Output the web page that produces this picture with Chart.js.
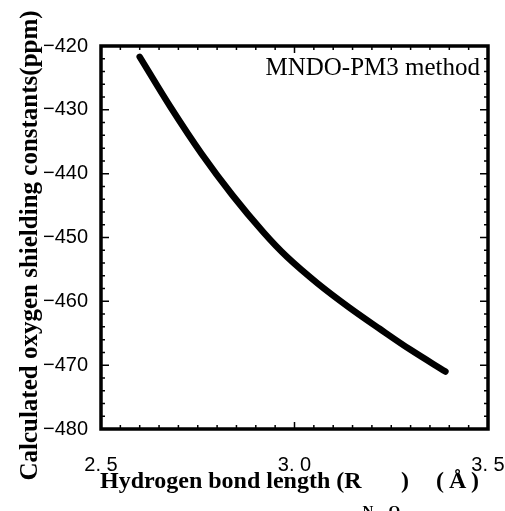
<!DOCTYPE html>
<html>
<head>
<meta charset="utf-8">
<script src="https://cdn.jsdelivr.net/npm/chart.js@4"></script>
<style>
  body { margin: 0; background: #fff; }
  #wrap { width: 505px; height: 511px; }
</style>
</head>
<body>
<div id="wrap"><canvas id="myChart" width="505" height="511"></canvas></div>
<script>
'use strict';

// values
let bondLength = [2.60, 2.68, 2.76, 2.84, 2.92, 2.98, 3.06, 3.14, 3.22, 3.30, 3.39];
let shielding = [-421.7, -429.6, -436.9, -443.4, -449.2, -453.0, -457.2, -460.9, -464.3, -467.6, -471.0];

let xMajorTicks = [2.5, 3.0, 3.5];
let yMajorTicks = [-420, -430, -440, -450, -460, -470, -480];

let serif = '"Liberation Serif", "Times New Roman", serif';
let sans = '"Liberation Sans", Arial, sans-serif';

let points = [];
for (let i = 0; i < bondLength.length; i++) {
    points.push({ x: bondLength[i], y: shielding[i] });
}

function isMajor(list, value) {
    for (let i = 0; i < list.length; i++) {
        if (Math.abs(list[i] - value) < 1e-6) return true;
    }
    return false;
}

// frame, inward ticks, titles and the note
let decorPlugin = {
    id: 'decor',
    afterDraw: function (chart) {
        let ctx = chart.ctx;
        let area = chart.chartArea;
        let xScale = chart.scales.x;
        let yScale = chart.scales.y;
        ctx.save();
        ctx.strokeStyle = '#000';

        ctx.lineWidth = 1.5;
        ctx.beginPath();
        xScale.ticks.forEach(function (tick) {
            let len = isMajor(xMajorTicks, tick.value) ? 7 : 4;
            let p = xScale.getPixelForValue(tick.value);
            ctx.moveTo(p, area.bottom);
            ctx.lineTo(p, area.bottom - len);
            ctx.moveTo(p, area.top);
            ctx.lineTo(p, area.top + len);
        });
        yScale.ticks.forEach(function (tick) {
            let len = isMajor(yMajorTicks, tick.value) ? 8 : 4;
            let p = yScale.getPixelForValue(tick.value);
            ctx.moveTo(area.left, p);
            ctx.lineTo(area.left + len, p);
            ctx.moveTo(area.right, p);
            ctx.lineTo(area.right - len, p);
        });
        ctx.stroke();

        ctx.lineWidth = 3.5;
        ctx.strokeRect(area.left, area.top, area.right - area.left, area.bottom - area.top);

        ctx.fillStyle = '#000';

        // note
        ctx.font = '25px ' + serif;
        ctx.textAlign = 'right';
        ctx.textBaseline = 'alphabetic';
        ctx.fillText('MNDO-PM3 method', area.right - 8, area.top + 29);

        // y title
        ctx.save();
        ctx.translate(37, (area.top + area.bottom) / 2 + 8);
        ctx.rotate(-Math.PI / 2);
        ctx.font = 'bold 25px ' + serif;
        ctx.textAlign = 'center';
        ctx.fillText('Calculated oxygen shielding constants(ppm)', 0, 0);
        ctx.restore();

        // x title with subscript
        let part1 = 'Hydrogen bond length (R';
        let sub = 'N\u2026O';
        let part2 = ')';
        let part3 = '(\u2009\u00c5\u2009)';
        let mainFont = 'bold 24px ' + serif;
        let subFont = 'bold 15px ' + serif;
        ctx.font = mainFont;
        let w1 = ctx.measureText(part1).width;
        let w2 = ctx.measureText(part2).width;
        ctx.font = subFont;
        let ws = ctx.measureText(sub).width;
        let gap = 29;
        let x0 = area.left - 1;
        let base = area.bottom + 59;
        ctx.textAlign = 'left';
        ctx.font = mainFont;
        ctx.fillText(part1, x0, base);
        ctx.font = subFont;
        ctx.fillText(sub, x0 + w1 + 1, base + 28);
        ctx.font = mainFont;
        ctx.fillText(part2, x0 + w1 + ws + 2, base);
        ctx.fillText(part3, x0 + w1 + ws + w2 + gap, base);

        ctx.restore();
    }
};

let ctx = document.getElementById('myChart').getContext('2d');
let chart = new Chart(ctx, {
    type: 'line',
    data: {
        datasets: [{
            data: points,
            borderColor: '#000',
            borderWidth: 6.5,
            borderCapStyle: 'round',
            pointRadius: 0,
            fill: false,
            tension: 0.35
        }]
    },
    options: {
        responsive: false,
        animation: false,
        layout: { padding: { left: 0, right: 17, top: 46, bottom: 0 } },
        plugins: {
            legend: { display: false },
            tooltip: { enabled: false }
        },
        scales: {
            x: {
                type: 'linear',
                min: 2.5,
                max: 3.5,
                grid: { display: false, drawTicks: false },
                border: { display: false },
                ticks: {
                    stepSize: 0.05,
                    maxTicksLimit: 100,
                    autoSkip: false,
                    maxRotation: 0,
                    padding: 24,
                    color: '#000',
                    font: { family: sans, size: 20 },
                    callback: function (value) {
                        if (!isMajor(xMajorTicks, value)) return '';
                        return value.toFixed(1).replace('.', '. ');
                    }
                },
                afterFit: function (scale) {
                    scale.height = 82;
                    scale.paddingLeft = 0;
                    scale.paddingRight = 0;
                }
            },
            y: {
                min: -480,
                max: -420,
                grid: { display: false, drawTicks: false },
                border: { display: false },
                ticks: {
                    stepSize: 2,
                    maxTicksLimit: 100,
                    autoSkip: false,
                    padding: 13,
                    color: '#000',
                    font: { family: sans, size: 20 },
                    callback: function (value) {
                        if (!isMajor(yMajorTicks, value)) return '';
                        return '\u2212' + Math.abs(value);
                    }
                },
                afterFit: function (scale) { scale.width = 101; }
            }
        }
    },
    plugins: [decorPlugin]
});
</script>
</body>
</html>
